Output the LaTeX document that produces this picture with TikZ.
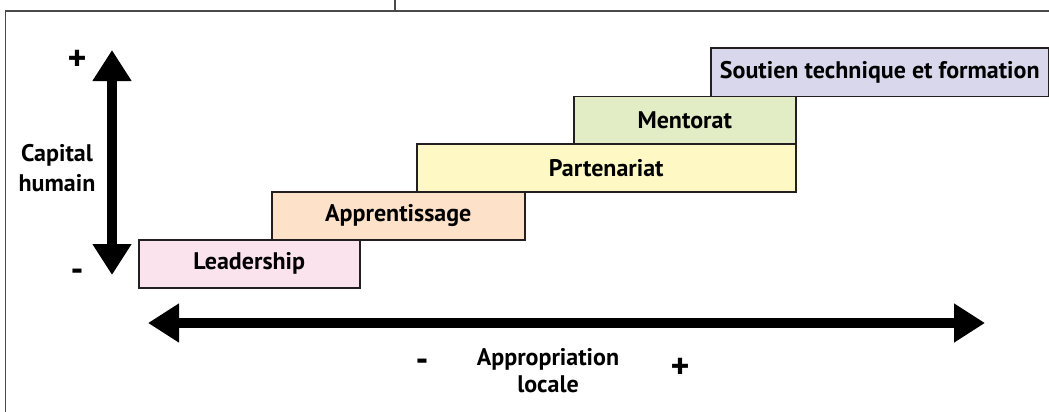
\documentclass[tikz,border=0pt]{standalone}
\usepackage{fontspec}
\setmainfont{PT Sans}
\usetikzlibrary{arrows.meta}
\definecolor{cpink}{HTML}{FBE3EE}
\definecolor{cpeach}{HTML}{FDE1C8}
\definecolor{cyellow}{HTML}{FEF9C4}
\definecolor{cgreen}{HTML}{E2EDC5}
\definecolor{clav}{HTML}{D9D7EC}
\definecolor{boxline}{HTML}{231F20}
\definecolor{framecol}{HTML}{4A4A4A}
\begin{document}
\begin{tikzpicture}[x=1pt,y=-1pt,
  stepbox/.style={draw=boxline, line width=1.5pt, inner sep=0pt, anchor=north west,
    font=\bfseries\fontsize{24}{28}\selectfont},
  lbl/.style={font=\bfseries\fontsize{24}{30}\selectfont, align=center, inner sep=0pt},
  sign/.style={font=\bfseries\fontsize{36}{40}\selectfont, inner sep=0pt},
  framel/.style={draw=framecol, line width=1.4pt},
  bigarrow/.style={line width=9.5pt, {Triangle[length=31pt,width=37pt]}-{Triangle[length=31pt,width=37pt]}}]
\useasboundingbox (0,0) rectangle (1049,412);
% frame
\coordinate (fbl) at (5.5,412);
\coordinate (ftl) at (5.5,11);
\coordinate (ftr) at (1049,11);
\coordinate (fst) at (395,0);
\coordinate (fsb) at (395,11);
\draw[framel] (fbl) -- (ftl) -- (ftr);
\draw[framel] (fst) -- (fsb);
% steps
\node[stepbox, fill=cpink, minimum width=221pt, minimum height=48pt] (lead) at (138,239) {Leadership};
\node[stepbox, fill=cpeach, minimum width=253pt, minimum height=48pt] (appr) at (271,191) {Apprentissage};
\node[stepbox, fill=cyellow, minimum width=379pt, minimum height=48pt] (part) at (416,143) {Partenariat};
\node[stepbox, fill=cgreen, minimum width=222pt, minimum height=47.5pt] (ment) at (573,95.5) {Mentorat};
\node[stepbox, fill=clav, minimum width=338pt, minimum height=48.5pt] (sout) at (710,47.3) {Soutien technique et formation};
% vertical axis
\coordinate (vtop) at (112,50);
\coordinate (vbot) at (112,275);
\draw[bigarrow] (vbot) -- (vtop);
\node[sign] (vplus) at (77,60) {+};
\node[sign] (vminus) at (77,275) {-};
\node[lbl] (vlab) at (57,168) {Capital\\humain};
% horizontal axis
\coordinate (hl) at (148,323);
\coordinate (hr) at (985,323);
\draw[bigarrow, line width=10pt] (hl) -- (hr);
\node[sign] (hminus) at (422,365) {-};
\node[sign] (hplus) at (680,368) {+};
\node[lbl, font=\bfseries\fontsize{24}{27}\selectfont] (hlab) at (548,371) {Appropriation\\locale};
\end{tikzpicture}
\end{document}
